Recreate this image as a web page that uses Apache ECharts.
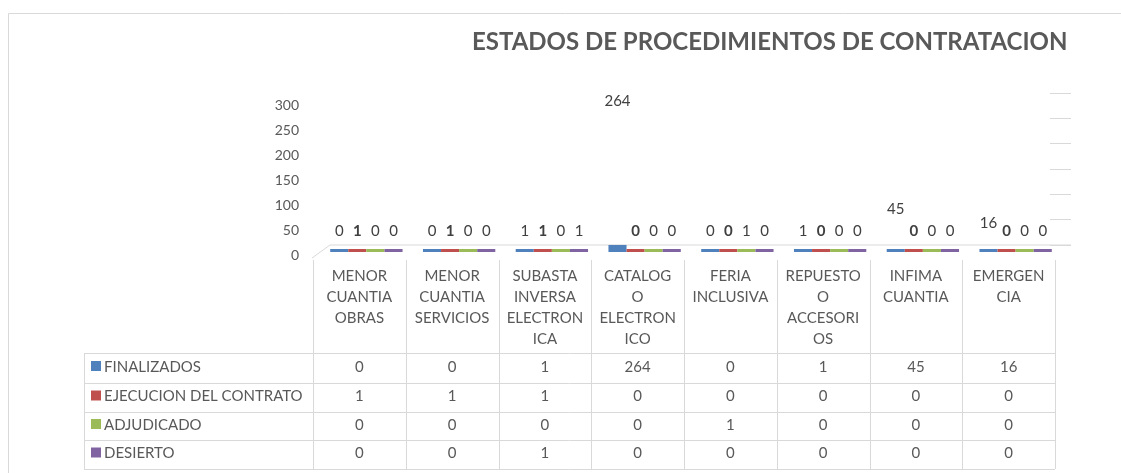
<!DOCTYPE html>
<html>
<head>
<meta charset="utf-8">
<script src="https://cdn.jsdelivr.net/npm/echarts@6/dist/echarts.min.js"></script>
<style>
  html, body { margin: 0; padding: 0; background: #fff; }
  #chart { width: 1121px; height: 473px; }
</style>
</head>
<body>
<div id="chart"></div>
<script>
// chart data
const categories = [
  'MENOR\nCUANTIA\nOBRAS',
  'MENOR\nCUANTIA\nSERVICIOS',
  'SUBASTA\nINVERSA\nELECTRON\nICA',
  'CATALOG\nO\nELECTRON\nICO',
  'FERIA\nINCLUSIVA',
  'REPUESTO\nO\nACCESORI\nOS',
  'INFIMA\nCUANTIA',
  'EMERGEN\nCIA'
];
const seriesNames = ['FINALIZADOS', 'EJECUCION DEL CONTRATO', 'ADJUDICADO', 'DESIERTO'];
const finalizados = [0, 0, 1, 264, 0, 1, 45, 16];
const ejecucion = [1, 1, 1, 0, 0, 0, 0, 0];
const adjudicado = [0, 0, 0, 0, 1, 0, 0, 0];
const desierto = [0, 0, 1, 0, 0, 0, 0, 0];
const yMax = 300;
const yStep = 50;

const seriesData = [finalizados, ejecucion, adjudicado, desierto];
const seriesColors = ['#4f81bd', '#c0504d', '#9bbb59', '#8064a2'];
const font = 'Lato, sans-serif';
const textColor = '#595959';
const lineColor = '#d9d9d9';

const chart = echarts.init(document.getElementById('chart'));

// bars (flattened floor) in grid 1, value labels in grid 2
const barSeries = seriesNames.map((name, i) => ({
  name: name,
  type: 'bar',
  xAxisIndex: 1,
  yAxisIndex: 1,
  data: seriesData[i],
  barGap: 0,
  barCategoryGap: '22%',
  barMinHeight: 3,
  itemStyle: { color: seriesColors[i] },
  silent: true
}));
const labelSeries = seriesNames.map((name, i) => ({
  name: name + ' label',
  type: 'bar',
  xAxisIndex: 2,
  yAxisIndex: 2,
  data: seriesData[i],
  barGap: 0,
  barCategoryGap: '22%',
  itemStyle: { color: 'transparent' },
  label: {
    show: true,
    position: 'top',
    distance: 4,
    fontFamily: font,
    fontSize: 15,
    fontWeight: i === 1 ? 'bold' : 'normal',
    color: '#404040'
  },
  silent: true
}));

const hiddenAxis = { show: false };

const options = {
  animation: false,
  title: {
    text: 'ESTADOS DE PROCEDIMIENTOS DE CONTRATACION',
    left: 472,
    top: 30,
    padding: 0,
    textStyle: { fontFamily: font, fontSize: 24, fontWeight: 'bold', color: textColor }
  },
  grid: [
    { left: 313, right: 66, top: 105, bottom: 218 },
    { left: 320, right: 59, top: 244, bottom: 221 },
    { left: 320, right: 59, top: 95, bottom: 230 },
    { left: 1050, right: 50, top: 93, bottom: 228 }
  ],
  xAxis: [
    {
      type: 'category', gridIndex: 0, data: categories,
      axisLine: { show: false }, axisTick: { show: false },
      axisLabel: {
        interval: 0, margin: 11, lineHeight: 21,
        fontFamily: font, fontSize: 15, color: textColor
      }
    },
    Object.assign({ type: 'category', gridIndex: 1, data: categories }, hiddenAxis),
    Object.assign({ type: 'category', gridIndex: 2, data: categories }, hiddenAxis),
    Object.assign({ type: 'value', gridIndex: 3, min: 0, max: 1 }, hiddenAxis)
  ],
  yAxis: [
    {
      type: 'value', gridIndex: 0, min: 0, max: yMax, interval: yStep,
      axisLine: { show: false }, axisTick: { show: false }, splitLine: { show: false },
      axisLabel: { margin: 14, fontFamily: font, fontSize: 14, color: textColor }
    },
    Object.assign({ type: 'value', gridIndex: 1, min: 0, max: yMax }, hiddenAxis),
    Object.assign({ type: 'value', gridIndex: 2, min: 0, max: yMax }, hiddenAxis),
    {
      type: 'value', gridIndex: 3, min: 0, max: yMax, interval: yStep,
      axisLine: { show: false }, axisTick: { show: false }, axisLabel: { show: false },
      splitLine: { show: true, lineStyle: { color: lineColor, width: 1 } }
    }
  ],
  series: barSeries.concat(labelSeries)
};

chart.setOption(options);

// data table under the plot, laid out from the category axis
const centers = categories.map((c, i) => chart.convertToPixel({ xAxisIndex: 0 }, i));
const half = (centers[1] - centers[0]) / 2;
const tableLeft = 84;
const tableRight = centers[centers.length - 1] + half;
const headerTop = 260;
const rowLines = [353, 383, 412, 440, 469];

const graphic = [];
// outer chart frame
graphic.push({ type: 'rect', shape: { x: 8.5, y: 13.5, width: 1200, height: 500 },
  style: { fill: 'none', stroke: lineColor, lineWidth: 1 }, silent: true });
// floor edge
graphic.push({ type: 'polyline', shape: { points: [[312, 258], [330, 245], [1071, 245]] },
  style: { stroke: lineColor, lineWidth: 1, fill: 'none' }, silent: true });

rowLines.forEach(y => {
  graphic.push({ type: 'line', shape: { x1: tableLeft, y1: y + 0.5, x2: tableRight, y2: y + 0.5 },
    style: { stroke: lineColor, lineWidth: 1 }, silent: true });
});
graphic.push({ type: 'line', shape: { x1: tableLeft + 0.5, y1: rowLines[0], x2: tableLeft + 0.5, y2: rowLines[4] },
  style: { stroke: lineColor, lineWidth: 1 }, silent: true });
for (let i = 0; i <= categories.length; i++) {
  const x = Math.round(centers[0] - half + i * half * 2) + 0.5;
  graphic.push({ type: 'line', shape: { x1: x, y1: headerTop, x2: x, y2: rowLines[4] },
    style: { stroke: lineColor, lineWidth: 1 }, silent: true });
}

seriesNames.forEach((name, r) => {
  const cy = (rowLines[r] + rowLines[r + 1]) / 2;
  graphic.push({ type: 'rect', shape: { x: 91, y: cy - 7, width: 10, height: 10 },
    style: { fill: seriesColors[r] }, silent: true });
  graphic.push({ type: 'text', x: 104, y: cy - 1,
    style: { text: name, fontFamily: font, fontSize: 15, fill: textColor,
      textVerticalAlign: 'middle', verticalAlign: 'middle' }, silent: true });
  seriesData[r].forEach((v, c) => {
    graphic.push({ type: 'text', x: centers[c], y: cy - 1,
      style: { text: String(v), fontFamily: font, fontSize: 15, fill: textColor,
        align: 'center', textAlign: 'center', verticalAlign: 'middle', textVerticalAlign: 'middle' },
      silent: true });
  });
});

chart.setOption({ graphic: graphic });
</script>
</body>
</html>
